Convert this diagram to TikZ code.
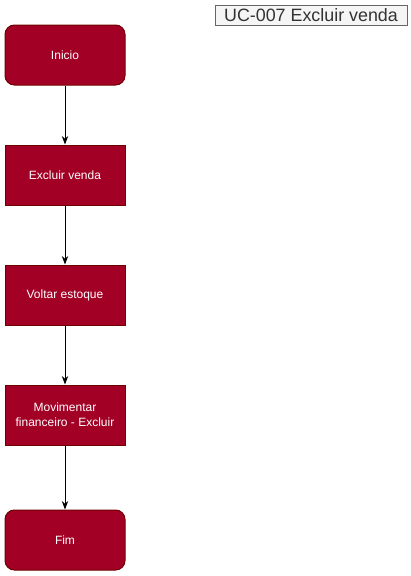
\documentclass[tikz,border=0pt]{standalone}
\usepackage{fontspec}
\setmainfont{Liberation Sans}
\usepackage{xcolor}
\usepackage{tikz}
\usetikzlibrary{arrows.meta,positioning}
\definecolor{passofill}{HTML}{A20025}
\definecolor{passoborda}{HTML}{6F0000}
\definecolor{titulofill}{HTML}{F5F5F5}
\definecolor{tituloborda}{HTML}{666666}
\definecolor{titulotexto}{HTML}{333333}

\begin{document}
\begin{tikzpicture}[x=0.75pt, y=-0.75pt, >=Stealth, line width=0.75pt,
    passo/.style={draw=passoborda, fill=passofill, text=white, font=\fontsize{9}{11}\selectfont,
        minimum width=90pt, minimum height=45pt, align=center, inner sep=1pt},
    terminal/.style={passo, rounded corners=7pt},
    seta/.style={->, black, line width=0.75pt}]
    \useasboundingbox (0,0) rectangle (411,576);
    % titulo do caso de uso
    \node[draw=tituloborda, fill=titulofill, text=titulotexto, font=\fontsize{13.4}{15}\selectfont,
        minimum width=144pt, minimum height=15pt, inner sep=0pt] (titulo) at (311,15) {UC-007 Excluir venda};
    % passos do fluxo
    \node[terminal] (inicio) at (65,55) {Inicio};
    \node[passo] (excluir) at (65,175) {Excluir venda};
    \node[passo] (estoque) at (65,295) {Voltar estoque};
    \node[passo] (financeiro) at (65,415) {Movimentar\\financeiro - Excluir};
    \node[terminal] (fim) at (65,540) {Fim};
    % conectores
    \draw[seta] (inicio) -- (excluir);
    \draw[seta] (excluir) -- (estoque);
    \draw[seta] (estoque) -- (financeiro);
    \draw[seta] (financeiro) -- (fim);
\end{tikzpicture}
\end{document}
